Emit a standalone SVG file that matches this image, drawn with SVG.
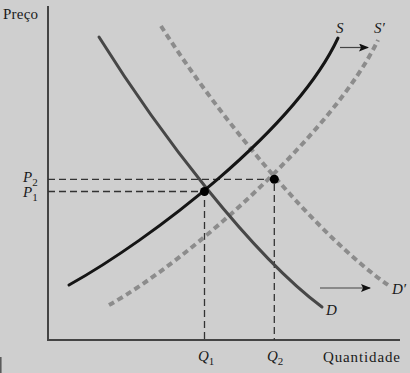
<svg xmlns="http://www.w3.org/2000/svg" width="410" height="373" viewBox="0 0 410 373">
<style>
text{font-family:"Liberation Serif","Times New Roman",serif;fill:#1a1a1a;font-size:15px}
.it{font-style:italic}
.axis{stroke:#444;stroke-width:2;fill:none}
.guide{stroke:#333;stroke-width:1.3;stroke-dasharray:7 4;fill:none}
.s{stroke:#151515;stroke-width:3;fill:none;stroke-linecap:round}
.d{stroke:#474747;stroke-width:3;fill:none;stroke-linecap:round}
.shift{stroke:#8c8c8c;stroke-width:4;stroke-dasharray:6 4;fill:none}
.arr{stroke:#444;stroke-width:1.2;fill:none;marker-end:url(#ah)}
.sub{font-size:11px;font-style:normal}
</style>
<defs>
<marker id="ah" markerWidth="10" markerHeight="8" refX="9" refY="4" orient="auto" markerUnits="userSpaceOnUse">
<path d="M0,0 L10,4 L0,8 L2,4 Z" fill="#111"/>
</marker>
</defs>
<rect width="410" height="373" fill="#cfcfcf"/>
<line x1="0.8" y1="357" x2="0.8" y2="373" stroke="#555" stroke-width="1.5"/>
<g id="axes">
<path class="axis" d="M48,6 V340 H400"/>
<text x="3" y="19" textLength="35" font-size="15.5">Preço</text>
<text x="323" y="362" textLength="77" font-size="16">Quantidade</text>
</g>
<g id="connectors">
<path class="guide" d="M48,179.3 H274.3 V340"/>
<path class="guide" d="M48,191.5 H204.5 V340"/>
<line class="arr" x1="340" y1="47.5" x2="368" y2="47.5"/>
<line class="arr" x1="320" y1="288" x2="370" y2="288"/>
</g>
<g id="curve-Dprime">
<path class="shift" d="M161,26 C221,120 318,236 388,285"/>
<text class="it" x="392" y="294">D′</text>
</g>
<g id="curve-Sprime">
<path class="shift" d="M109,305 C190,260 335,130 378,40"/>
<text class="it" x="374" y="33">S′</text>
</g>
<g id="curve-D">
<path class="d" d="M99,37 C159,133 252,255 322,307"/>
<text class="it" x="326" y="315">D</text>
</g>
<g id="curve-S">
<path class="s" d="M69,285 C150,240 295,130 338,38"/>
<text class="it" x="336" y="33">S</text>
</g>
<g id="eq1">
<circle cx="204.5" cy="191.5" r="4.5" fill="#000"/>
</g>
<g id="eq2">
<circle cx="274.3" cy="179.3" r="4.5" fill="#000"/>
</g>
<g id="labels">
<text class="it" x="23" y="182" font-size="16">P<tspan class="sub" dy="4">2</tspan></text>
<text class="it" x="23" y="197" font-size="16">P<tspan class="sub" dy="4">1</tspan></text>
<text class="it" x="198" y="361" font-size="16">Q<tspan class="sub" dy="4">1</tspan></text>
<text class="it" x="267" y="361" font-size="16">Q<tspan class="sub" dy="4">2</tspan></text>
</g>
</svg>
